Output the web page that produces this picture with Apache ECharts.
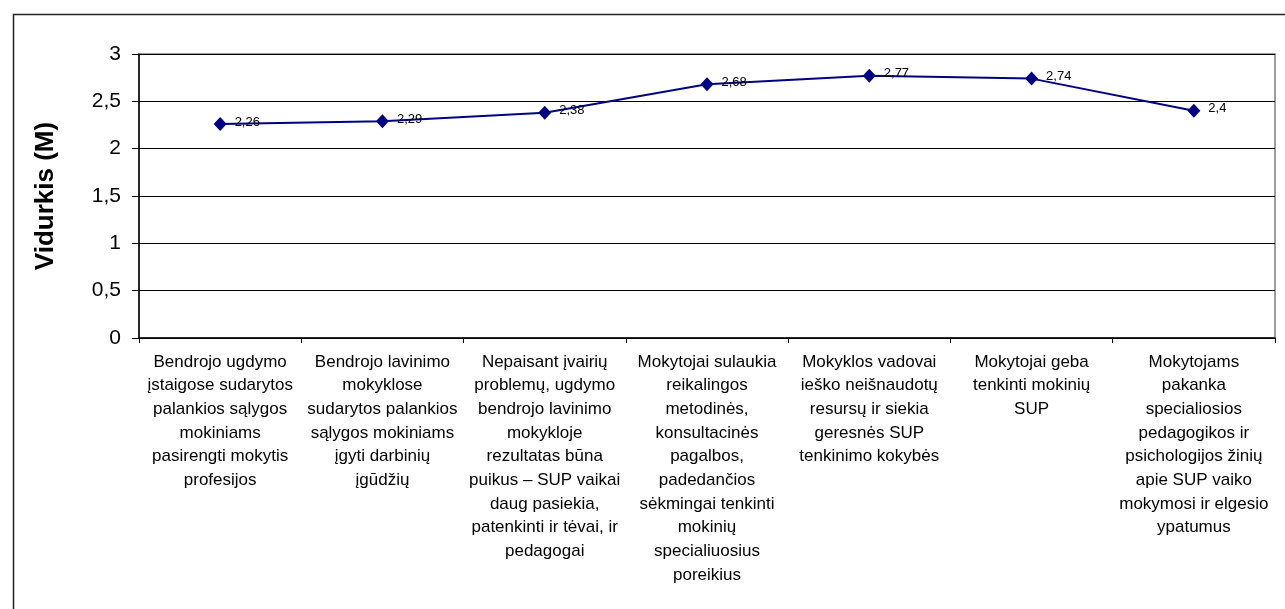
<!DOCTYPE html>
<html>
<head>
<meta charset="utf-8">
<script src="https://cdn.jsdelivr.net/npm/echarts@6/dist/echarts.min.js"></script>
<style>
html,body{margin:0;padding:0;background:#fff;}
#c{width:1285px;height:609px;}
</style>
</head>
<body>
<div id="c"></div>
<script>
const categories = [
  "Bendrojo ugdymo\nįstaigose sudarytos\npalankios sąlygos\nmokiniams\npasirengti mokytis\nprofesijos",
  "Bendrojo lavinimo\nmokyklose\nsudarytos palankios\nsąlygos mokiniams\nįgyti darbinių\nįgūdžių",
  "Nepaisant įvairių\nproblemų, ugdymo\nbendrojo lavinimo\nmokykloje\nrezultatas būna\npuikus – SUP vaikai\ndaug pasiekia,\npatenkinti ir tėvai, ir\npedagogai",
  "Mokytojai sulaukia\nreikalingos\nmetodinės,\nkonsultacinės\npagalbos,\npadedančios\nsėkmingai tenkinti\nmokinių\nspecialiuosius\nporeikius",
  "Mokyklos vadovai\nieško neišnaudotų\nresursų ir siekia\ngeresnės SUP\ntenkinimo kokybės",
  "Mokytojai geba\ntenkinti mokinių\nSUP",
  "Mokytojams\npakanka\nspecialiosios\npedagogikos ir\npsichologijos žinių\napie SUP vaiko\nmokymosi ir elgesio\nypatumus"
];
const values = [2.26, 2.29, 2.38, 2.68, 2.77, 2.74, 2.4];
const yAxisName = "Vidurkis (M)";

const fmt = v => String(v).replace('.', ',');
const chart = echarts.init(document.getElementById('c'), null, {renderer: 'canvas'});
chart.setOption({
  animation: false,
  backgroundColor: '#fff',
  textStyle: {fontFamily: 'Liberation Sans, Arial, sans-serif'},
  graphic: [{
    type: 'rect', left: 11, top: 12, z: 100, silent: true,
    shape: {x: 0, y: 0, width: 1290, height: 620},
    style: {fill: 'none', stroke: '#222', lineWidth: 1.5}
  }],
  grid: {left: 139, right: 10, top: 54, bottom: 271, show: true, borderColor: '#808080', borderWidth: 1.5},
  xAxis: {
    type: 'category', data: categories, boundaryGap: true,
    axisLine: {lineStyle: {color: '#000', width: 1.5}},
    axisTick: {show: true, length: 5, lineStyle: {color: '#000'}, interval: 0},
    axisLabel: {interval: 0, color: '#000', fontSize: 17, lineHeight: 23.7, margin: 12, align: 'center'},
    splitLine: {show: false}
  },
  yAxis: {
    type: 'value', min: 0, max: 3, interval: 0.5,
    name: yAxisName, nameLocation: 'middle', nameGap: 80, nameRotate: 90,
    nameTextStyle: {fontSize: 26, fontWeight: 'bold', color: '#000'},
    axisLine: {show: true, lineStyle: {color: '#000', width: 1.5}},
    axisTick: {show: true, length: 7, lineStyle: {color: '#000'}},
    axisLabel: {color: '#000', fontSize: 21, margin: 18, formatter: v => fmt(v)},
    splitLine: {show: true, lineStyle: {color: '#000', width: 1}}
  },
  series: [{
    type: 'line', data: values,
    symbol: 'diamond', symbolSize: [13, 14],
    lineStyle: {color: '#000080', width: 2},
    itemStyle: {color: '#000080'},
    label: {show: true, position: 'right', distance: 8, offset: [0, -2], fontSize: 13, color: '#000',
      formatter: p => fmt(p.value)}
  }]
});
</script>
</body>
</html>
